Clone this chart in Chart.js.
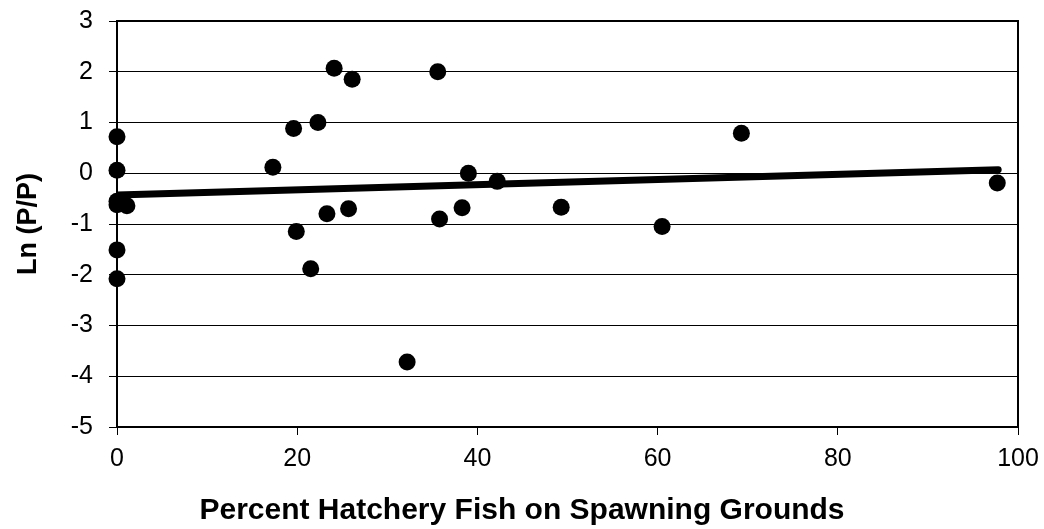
<!DOCTYPE html>
<html>
<head>
<meta charset="utf-8">
<script src="https://cdn.jsdelivr.net/npm/chart.js@4/dist/chart.umd.min.js"></script>
<style>
  html, body { margin: 0; padding: 0; background: #fff; }
  #wrap { width: 1044px; height: 529px; }
</style>
</head>
<body>
<div id="wrap"><canvas id="scatter-chart"></canvas></div>
<script>
// data
const pctHatchery = [0, 0, 0, 0, 1.1, 0, 0, 17.3, 19.6, 19.9, 21.5, 22.3, 23.3, 24.1, 25.7, 26.1,
    32.2, 35.6, 35.8, 38.3, 39.0, 42.2, 49.3, 60.5, 69.3, 97.7];
const lnPP = [0.72, 0.06, -0.55, -0.62, -0.64, -1.51, -2.08, 0.12, 0.88, -1.15, -1.88, 1.0, -0.8, 2.07, -0.7, 1.85,
    -3.72, 2.0, -0.9, -0.68, 0.0, -0.16, -0.67, -1.05, 0.79, -0.19];
const trendX = [0, 97.8];
const trendY = [-0.43, 0.07];
const xTicks = [0, 20, 40, 60, 80, 100];
const yTicks = [-5, -4, -3, -2, -1, 0, 1, 2, 3];

Chart.defaults.font.family = '"Liberation Sans", Arial, sans-serif';
Chart.defaults.color = '#000';

// box round the plot area (top and right edges)
const frame = {
    id: 'frame',
    afterDraw(chart) {
        const a = chart.chartArea, c = chart.ctx;
        c.save();
        c.strokeStyle = '#000';
        c.lineWidth = 2;
        c.strokeRect(a.left, a.top, a.right - a.left, a.bottom - a.top);
        c.restore();
    }
};

const config = {
    type: 'scatter',
    data: {
        datasets: [
            {
                type: 'line',
                data: trendX.map((x, i) => ({ x: x, y: trendY[i] })),
                borderColor: '#000',
                borderWidth: 7,
                borderCapStyle: 'round',
                pointRadius: 0,
                fill: false,
                order: 2
            },
            {
                data: pctHatchery.map((x, i) => ({ x: x, y: lnPP[i] })),
                backgroundColor: '#000',
                borderWidth: 0,
                pointRadius: 8.5,
                clip: false,
                order: 1
            }
        ]
    },
    options: {
        responsive: true,
        maintainAspectRatio: false,
        animation: false,
        layout: { padding: { top: 21, right: 0, left: 0, bottom: 0 } },
        plugins: {
            legend: { display: false },
            tooltip: { enabled: false },
            title: {
                display: true,
                position: 'bottom',
                text: 'Percent Hatchery Fish on Spawning Grounds',
                font: { size: 30, weight: 'bold' },
                padding: { top: 0, bottom: 0 }
            }
        },
        scales: {
            x: {
                type: 'linear',
                min: 0, max: 100,
                afterBuildTicks: s => { s.ticks = xTicks.map(v => ({ value: v })); },
                afterFit: s => { s.height = 66; s.paddingLeft = 0; s.paddingRight = 0; },
                grid: { drawOnChartArea: false, drawTicks: true, tickLength: 8, color: '#000' },
                border: { color: '#000', width: 2 },
                ticks: { font: { size: 25 }, padding: 9, maxRotation: 0 }
            },
            y: {
                min: -5, max: 3,
                afterBuildTicks: s => { s.ticks = yTicks.map(v => ({ value: v })); },
                afterFit: s => { s.width = 117; s.paddingTop = 0; s.paddingBottom = 0; },
                grid: { color: '#000', lineWidth: 1, tickLength: 8 },
                border: { color: '#000', width: 2 },
                ticks: { font: { size: 25 }, padding: 16 },
                title: {
                    display: true,
                    text: 'Ln (P/P)',
                    font: { size: 27, weight: 'bold' },
                    padding: { top: 12, bottom: 0 }
                }
            },
            // empty spacer on the right
            yRight: {
                position: 'right',
                min: -5, max: 3,
                afterFit: s => { s.width = 26; },
                grid: { display: false },
                border: { display: false },
                ticks: { display: false }
            }
        }
    },
    plugins: [frame]
};

new Chart(document.getElementById('scatter-chart'), config);
</script>
</body>
</html>
